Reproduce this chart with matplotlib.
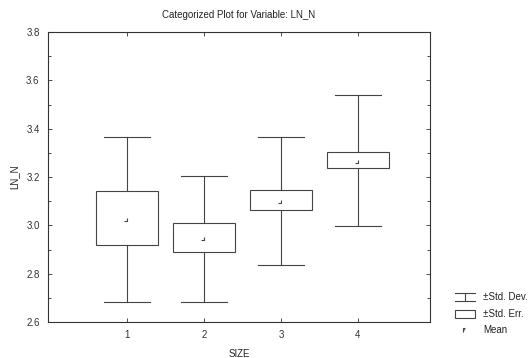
import numpy as np
import matplotlib.pyplot as plt
from matplotlib.lines import Line2D
from matplotlib.patches import Rectangle
from matplotlib.path import Path

plt.rcParams['font.family'] = ['Liberation Sans', 'DejaVu Sans']

# data
sizes = [1, 2, 3, 4]
means = [3.03, 2.95, 3.105, 3.27]
se_low = [2.919, 2.89, 3.064, 3.237]
se_high = [3.142, 3.01, 3.146, 3.303]
sd_low = [2.683, 2.683, 2.836, 2.997]
sd_high = [3.365, 3.205, 3.365, 3.54]

col = '#444444'
lw = 0.8

fig = plt.figure(figsize=(5.32, 3.58), dpi=100)
ax = fig.add_axes([48/532, 1 - 322/358, 382/532, 290/358])

box_w = 0.81
cap_w = 0.6
for x, m, sl, sh, dl, dh in zip(sizes, means, se_low, se_high, sd_low, sd_high):
    ax.plot([x, x], [dl, sl], color=col, lw=lw)
    ax.plot([x, x], [sh, dh], color=col, lw=lw)
    ax.plot([x - cap_w/2, x + cap_w/2], [dl, dl], color=col, lw=lw)
    ax.plot([x - cap_w/2, x + cap_w/2], [dh, dh], color=col, lw=lw)
    ax.add_patch(Rectangle((x - box_w/2, sl), box_w, sh - sl, fill=False, ec=col, lw=lw))

corner = Path([(-1, -1), (0, -1), (0, 0)], [Path.MOVETO, Path.LINETO, Path.LINETO])
ax.plot(sizes, means, ls='none', marker=corner, ms=4, mew=0.8, mec=col, mfc='none')

ax.set_xlim(-0.03, 4.94)
ax.set_ylim(2.6, 3.8)
ax.set_xticks(sizes)
ax.set_yticks(np.arange(2.6, 3.81, 0.2))
ax.set_yticks(np.arange(2.6, 3.81, 0.1), minor=True)
ax.yaxis.set_major_formatter(plt.FormatStrFormatter('%.1f'))
ax.tick_params(direction='in', top=True, right=True, length=3, width=0.6,
               labelsize=7, colors='#333333', pad=6)
ax.tick_params(which='minor', direction='in', right=True, length=2, width=0.5)
for s in ax.spines.values():
    s.set_linewidth(0.8)
    s.set_color('#333333')

ax.set_title('Categorized Plot for Variable: LN_N', fontsize=7, color='#222222', pad=10)
ax.set_xlabel('SIZE', fontsize=7, color='#222222', labelpad=6)
ax.set_ylabel('LN_N', fontsize=7, color='#222222', labelpad=5)

# legend drawn by hand, outside the axes
def fx(px):
    return px / 532

def fy(py):
    return 1 - py / 358

y1, y2, y3 = 297, 314, 330
fig.add_artist(Line2D([fx(455), fx(475)], [fy(y1 - 4)] * 2, color=col, lw=lw))
fig.add_artist(Line2D([fx(455), fx(475)], [fy(y1 + 4)] * 2, color=col, lw=lw))
fig.add_artist(Line2D([fx(465), fx(465)], [fy(y1 - 4), fy(y1 + 4)], color=col, lw=lw))
fig.add_artist(Rectangle((fx(455), fy(y2 + 4)), fx(20), 8/358, fill=False, ec=col, lw=lw))
fig.add_artist(Line2D([fx(465)], [fy(y3)], ls='none', marker=Path([(0, 1), (-1, 1), (-1, -1)], [Path.MOVETO, Path.LINETO, Path.LINETO]),
                      ms=3, mew=0.8, mec=col))
for y, t in [(y1, '±Std. Dev.'), (y2, '±Std. Err.'), (y3, 'Mean')]:
    fig.text(fx(483), fy(y), t, fontsize=7, va='center', color='#222222')

fig.savefig('out.png', dpi=100)
